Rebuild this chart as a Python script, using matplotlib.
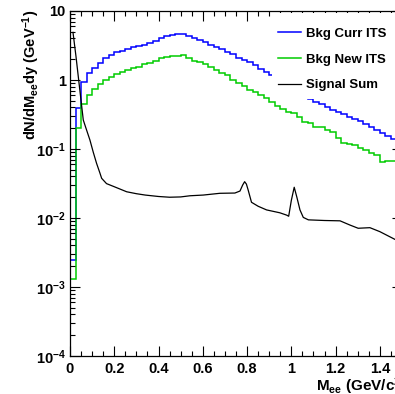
import numpy as np
import matplotlib.pyplot as plt
from matplotlib.patches import Rectangle
from matplotlib.ticker import MultipleLocator, LogLocator, FuncFormatter, NullFormatter

plt.rcParams['font.family'] = 'Liberation Sans'
plt.rcParams['font.weight'] = 'bold'
plt.rcParams['mathtext.fontset'] = 'custom'
plt.rcParams['mathtext.rm'] = 'Liberation Sans:bold'
plt.rcParams['mathtext.it'] = 'Liberation Sans:bold'
plt.rcParams['mathtext.bf'] = 'Liberation Sans:bold'
plt.rcParams['mathtext.default'] = 'rm'

# 60 bins of 25 MeV from 0 to 1.5 GeV
edges = np.linspace(0, 1.5, 61)

bkg_curr = [0.0025, 0.39, 0.93, 1.28, 1.51, 1.78, 2.06, 2.3, 2.55, 2.63,
            2.79, 2.98, 3.11, 3.25, 3.41, 3.67, 4.0, 4.34, 4.56, 4.62,
            4.59, 4.34, 4.11, 3.80, 3.52, 3.21, 3.04, 2.79, 2.52, 2.36,
            2.11, 1.95, 1.80, 1.65, 1.43, 1.29, 1.18, 1.06, 0.95, 0.84,
            0.75, 0.66, 0.59, 0.53, 0.486, 0.449, 0.411, 0.367, 0.34, 0.318,
            0.294, 0.269, 0.255, 0.228, 0.21, 0.188, 0.169, 0.156, 0.138, 0.13]

bkg_new = [0.0013, 0.2, 0.45, 0.61, 0.73, 0.87, 1.0, 1.12, 1.21, 1.29,
           1.40, 1.48, 1.56, 1.69, 1.75, 1.91, 2.06, 2.18, 2.23, 2.23,
           2.28, 2.11, 1.91, 1.80, 1.69, 1.53, 1.40, 1.28, 1.18, 1.0,
           0.895, 0.83, 0.72, 0.68, 0.61, 0.555, 0.48, 0.425, 0.38, 0.34,
           0.329, 0.294, 0.249, 0.235, 0.21, 0.206, 0.188, 0.178, 0.143, 0.121,
           0.117, 0.114, 0.102, 0.097, 0.0886, 0.082, 0.0655, 0.0676, 0.0676, 0.066]

sig_m = [0.0135, 0.027, 0.04, 0.05, 0.06, 0.075, 0.09, 0.105, 0.12, 0.135,
         0.143, 0.165, 0.2, 0.256, 0.3, 0.34, 0.4, 0.45, 0.5,
         0.542, 0.602, 0.677, 0.745, 0.768, 0.78, 0.789, 0.797, 0.805, 0.82,
         0.85, 0.888, 0.948, 0.979, 0.988, 1.0, 1.013, 1.025, 1.039, 1.054,
         1.077, 1.15, 1.22, 1.265, 1.302, 1.355, 1.40, 1.468, 1.5]
sig_val = [4.9, 2.2, 0.95, 0.5, 0.263, 0.188, 0.135, 0.09, 0.062, 0.045,
           0.0376, 0.0315, 0.0284, 0.024, 0.0225, 0.0215, 0.0205, 0.0200, 0.0202,
           0.021, 0.0215, 0.0228, 0.0230, 0.0246, 0.030, 0.0336, 0.031, 0.0254, 0.0169,
           0.0148, 0.0131, 0.0119, 0.0110, 0.0106, 0.018, 0.0279, 0.020, 0.0131, 0.0102,
           0.0094, 0.0092, 0.0091, 0.0079, 0.0071, 0.00724, 0.00634, 0.0049, 0.0045]

fig = plt.figure(figsize=(3.95, 3.94), dpi=100)
ax = fig.add_axes([70/395, 38/394, 332/395, 345/394])

ax.stairs(bkg_curr, edges, color='#0000ff', lw=1.1, baseline=None, label='Bkg Curr ITS')
ax.stairs(bkg_new, edges, color='#00cc00', lw=1.1, baseline=None, label='Bkg New ITS')
ax.plot(sig_m, sig_val, color='black', lw=0.9, label='Signal Sum')

ax.set_yscale('log')
ax.set_xlim(0, 1.5)
ax.set_ylim(1e-4, 10)

ax.xaxis.set_major_locator(MultipleLocator(0.2))
ax.xaxis.set_minor_locator(MultipleLocator(0.05))
ax.xaxis.set_major_formatter(FuncFormatter(lambda v, p: f'{v:g}'))
ylabs = {-4: '10$^{-4}$', -3: '10$^{-3}$', -2: '10$^{-2}$', -1: '10$^{-1}$', 0: '1', 1: '10'}
ax.yaxis.set_major_locator(LogLocator(base=10))
ax.yaxis.set_minor_locator(LogLocator(base=10, subs=np.arange(2, 10)))
ax.yaxis.set_major_formatter(FuncFormatter(lambda v, p: ylabs.get(int(round(np.log10(v))), '')))
ax.yaxis.set_minor_formatter(NullFormatter())

ax.tick_params(which='both', direction='in', top=True, right=True, width=0.8, labelsize=10.5)
ax.tick_params(which='major', length=7)
ax.tick_params(which='minor', length=3.5)
ax.tick_params(axis='x', pad=4)
ax.tick_params(axis='y', pad=3)
for s in ax.spines.values():
    s.set_linewidth(0.9)

ax.text(-0.117, 1.003, 'dN/dM$_{ee}$dy (GeV$^{-1}$)', transform=ax.transAxes,
        rotation=90, ha='center', va='top', fontsize=10.5)
ax.text(1.015, -0.056, 'M$_{ee}$ (GeV/c$^{2}$)', transform=ax.transAxes,
        ha='right', va='top', fontsize=11)

# white legend box hides the curves behind it
ax.add_patch(Rectangle((0.6084, 0.745), 0.3916, 0.25, transform=ax.transAxes,
                       facecolor='white', edgecolor='none', zorder=4))
ax.legend(loc='upper left', bbox_to_anchor=(0.627, 0.952), frameon=False,
          borderpad=0, borderaxespad=0, handlelength=1.7, handletextpad=0.4,
          labelspacing=1.03, fontsize=9.5)

fig.savefig('out.png', dpi=100)
